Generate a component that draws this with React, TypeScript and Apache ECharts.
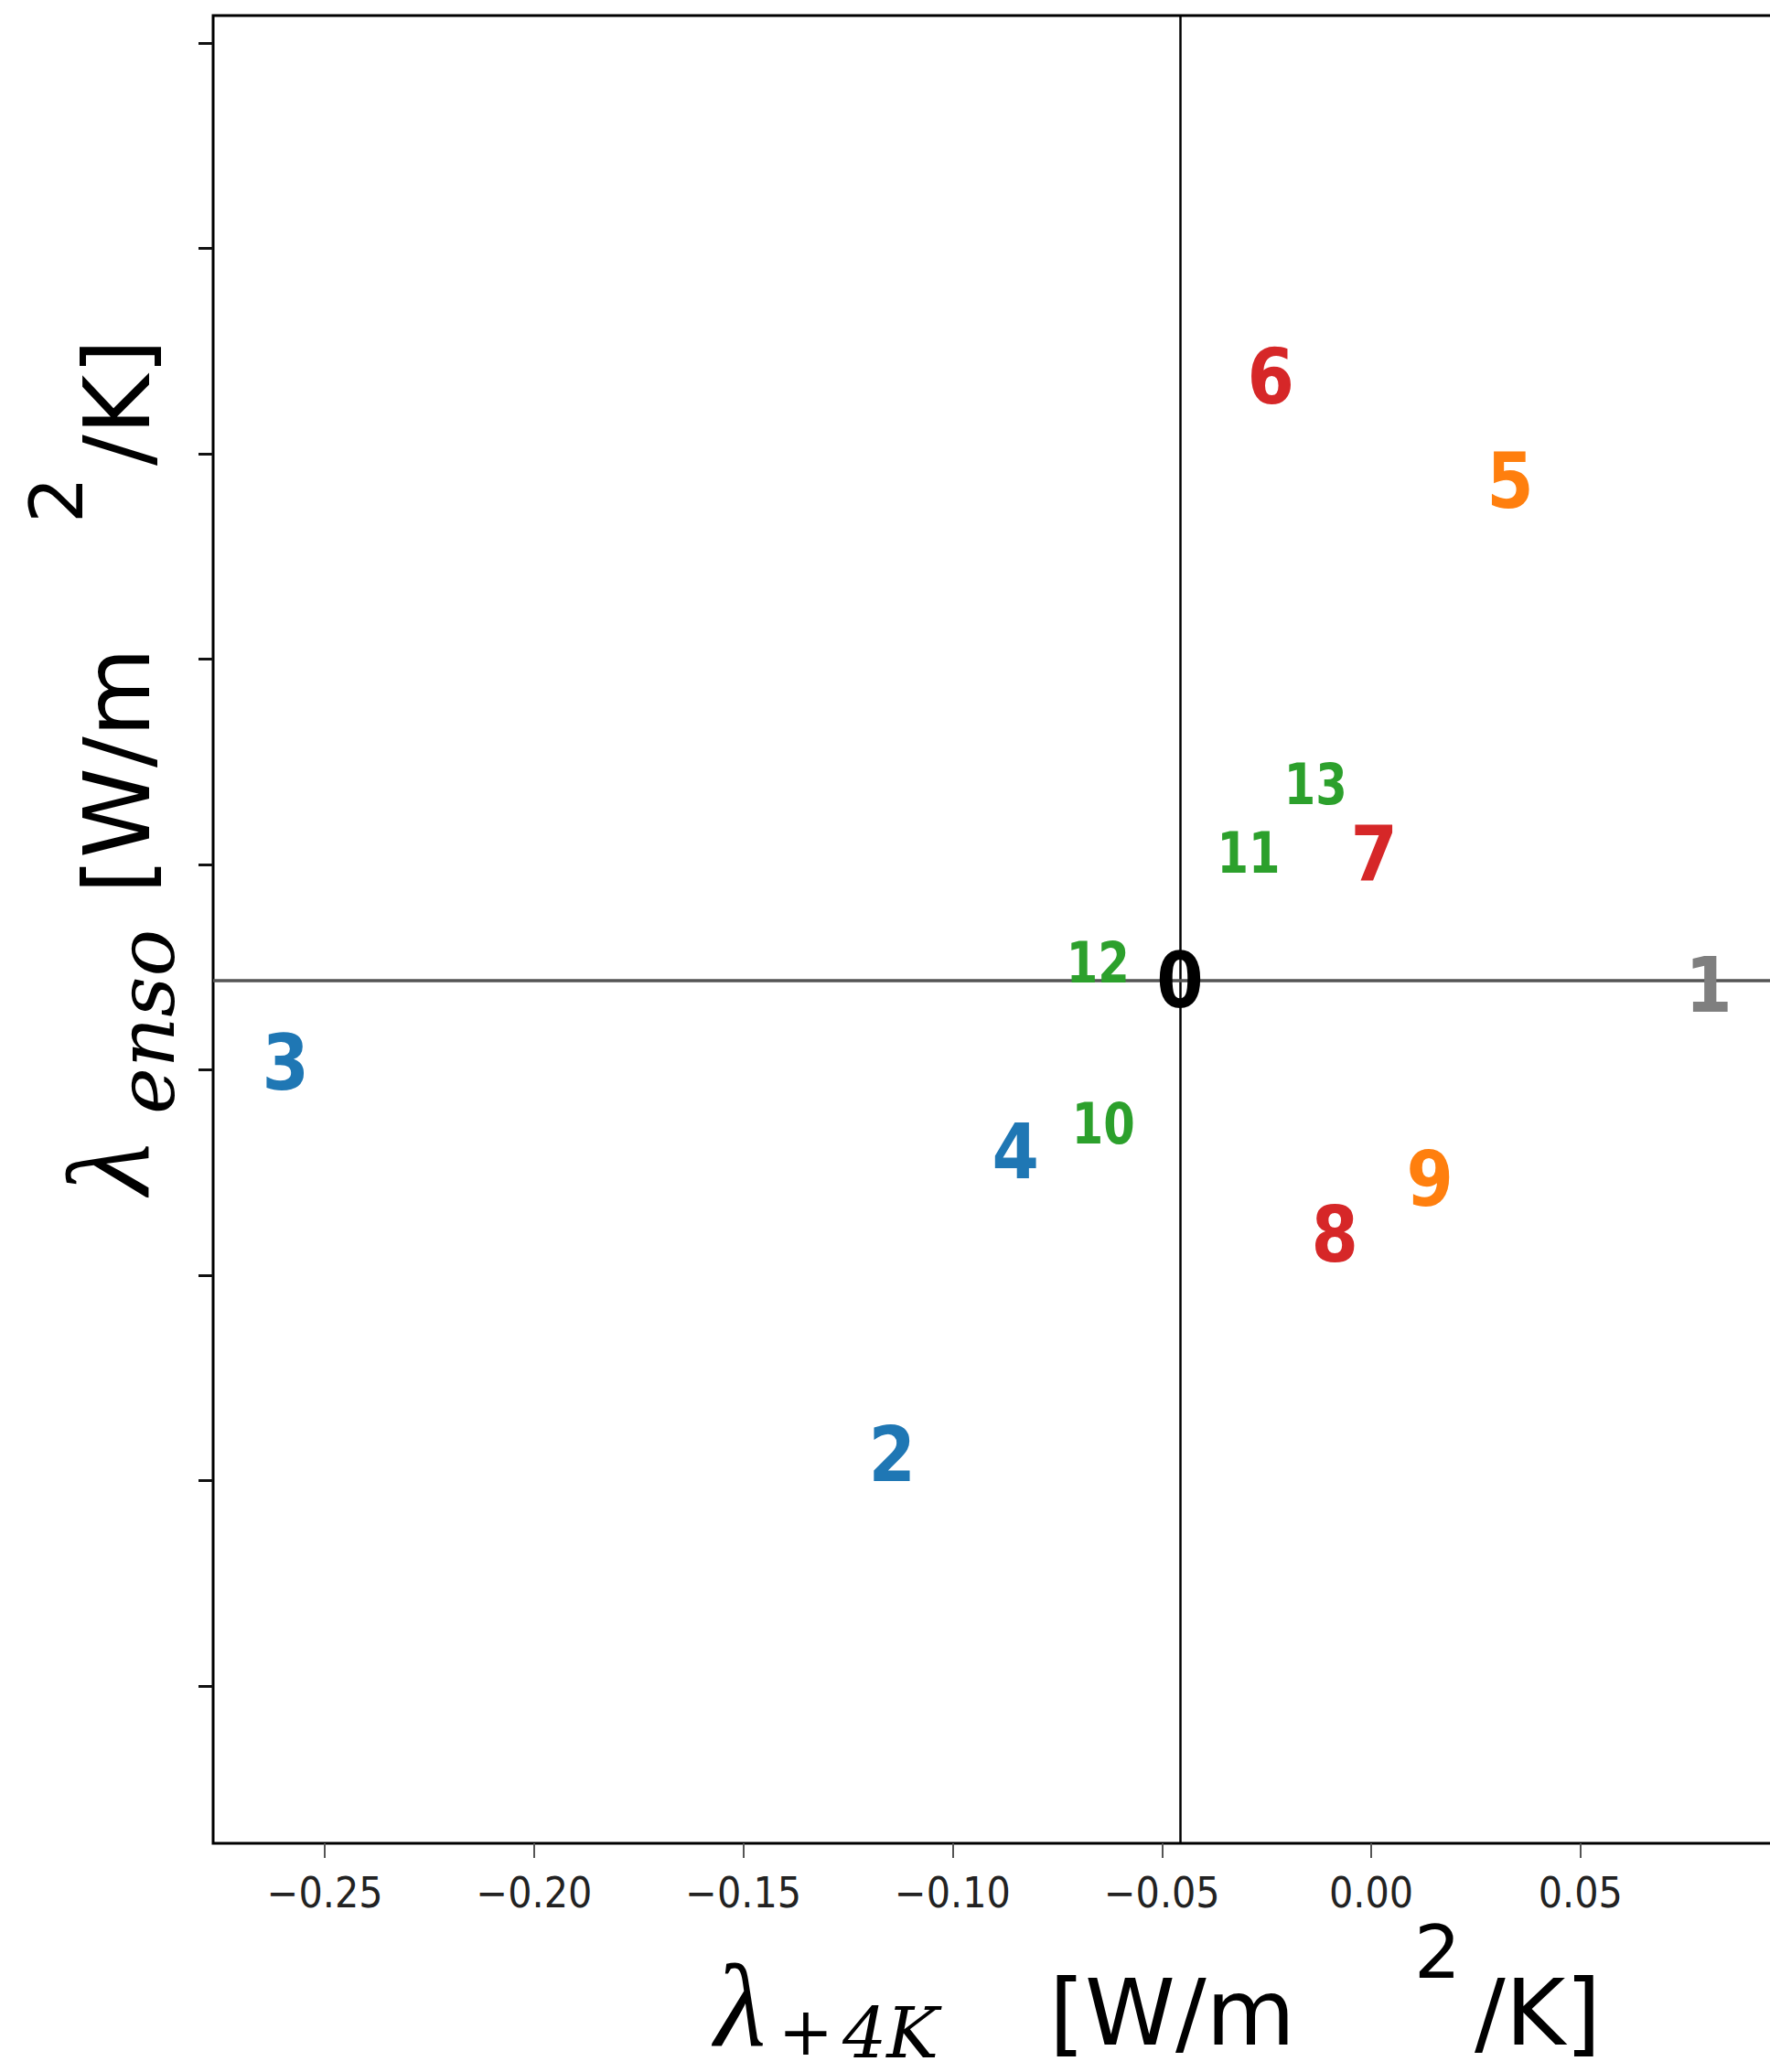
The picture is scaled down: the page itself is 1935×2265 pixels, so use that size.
import React, { useEffect, useRef } from "react";
import * as echarts from "echarts";

// ---- data ----
const pointLabels = ["0", "1", "2", "3", "4", "5", "6", "7", "8", "9", "10", "11", "12", "13"];
const lambda4K = [-0.0457, 0.0806, -0.1145, -0.2594, -0.085, 0.0332, -0.024, 0.0007, -0.0087, 0.014, -0.064, -0.0293, -0.0653, -0.0133];
const lambdaEnso = [-0.0566, -0.0588, -0.2873, -0.0967, -0.1399, 0.1866, 0.2374, 0.0049, -0.1804, -0.1532, -0.1261, 0.0058, -0.0477, 0.0388];
const pointGroups = ["ref", "gray", "blue", "blue", "blue", "orange", "red", "red", "red", "orange", "green", "green", "green", "green"];
const xTickValues = [-0.25, -0.2, -0.15, -0.1, -0.05, 0, 0.05];
const yTickValues = [-0.4, -0.3, -0.2, -0.1, 0, 0.1, 0.2, 0.3, 0.4];
const xRange = [-0.2767, 0.1];
const yRange = [-0.4766, 0.4134];

const groupColor: Record<string, string> = {
  ref: "#000000",
  gray: "#7f7f7f",
  blue: "#1f77b4",
  orange: "#ff7f0e",
  red: "#d62728",
  green: "#2ca02c",
};

const fmt = (v: number) => (v < 0 ? "\u2212" + Math.abs(v).toFixed(2) : v.toFixed(2));

export default function App() {
  const ref = useRef<HTMLDivElement>(null);

  useEffect(() => {
    if (!ref.current) return;
    const chart = echarts.init(ref.current, undefined, { renderer: "svg" });

    const data = lambda4K.map((x, i) => [x, lambdaEnso[i], i]);
    const sans = "'DejaVu Sans', sans-serif";
    const serif = "'DejaVu Serif', serif";
    const tSerif = "'Liberation Serif', serif";

    const option: any = {
      animation: false,
      backgroundColor: "#ffffff",
      grid: {
        left: 233,
        top: 17,
        width: 1723.6,
        height: 1998,
        outerBoundsMode: "none",
        show: true,
        borderColor: "#000",
        borderWidth: 3,
        backgroundColor: "#fff",
      },
      xAxis: {
        type: "value",
        min: xRange[0],
        max: xRange[1],
        axisLine: { show: false, onZero: false },
        splitLine: { show: false },
        axisTick: {
          show: true,
          length: 16,
          customValues: xTickValues,
          lineStyle: { color: "#555", width: 2 },
        },
        axisLabel: {
          show: true,
          customValues: xTickValues,
          margin: 31,
          fontSize: 46,
          fontFamily: "'DejaVu Sans Condensed', 'DejaVu Sans', sans-serif",
          color: "#222",
          formatter: (v: number) => fmt(v),
        },
      },
      yAxis: {
        type: "value",
        min: yRange[0],
        max: yRange[1],
        axisLine: { show: false, onZero: false },
        splitLine: { show: false },
        axisTick: {
          show: true,
          length: 16,
          customValues: yTickValues,
          lineStyle: { color: "#111", width: 3 },
        },
        axisLabel: { show: false },
      },
      graphic: [
        // x axis title
        { type: "text", x: 781, y: 2193, style: { text: "λ", font: `italic 130px ${tSerif}`, fill: "#000", align: "left", verticalAlign: "middle" } },
        { type: "text", x: 881, y: 2221, style: { text: "+", font: `72px ${serif}`, lineHeight: 50, fill: "#000", align: "center", verticalAlign: "middle" } },
        { type: "text", x: 921, y: 2222, style: { text: "4K", font: `italic 76px ${serif}`, lineHeight: 56, fill: "#000", align: "left", verticalAlign: "middle" } },
        { type: "text", x: 1147, y: 2200, style: { text: "[W/m", font: `100px ${sans}`, fill: "#000", align: "left", verticalAlign: "middle" } },
        { type: "text", x: 1546, y: 2134, style: { text: "2", font: `80px ${sans}`, fill: "#000", align: "left", verticalAlign: "middle" } },
        { type: "text", x: 1612, y: 2200, style: { text: "/K]", font: `100px ${sans}`, fill: "#000", align: "left", verticalAlign: "middle" } },
        // y axis title (rotated)
        { type: "text", x: 119, y: 1306, rotation: Math.PI / 2, style: { text: "λ", font: `italic 130px ${tSerif}`, fill: "#000", align: "left", verticalAlign: "middle" } },
        { type: "text", x: 160, y: 1218, rotation: Math.PI / 2, style: { text: "enso", font: `italic 86px ${serif}`, fill: "#000", align: "left", verticalAlign: "middle" } },
        { type: "text", x: 128, y: 977, rotation: Math.PI / 2, style: { text: "[W/m", font: `100px ${sans}`, fill: "#000", align: "left", verticalAlign: "middle" } },
        { type: "text", x: 62, y: 572, rotation: Math.PI / 2, style: { text: "2", font: `80px ${sans}`, fill: "#000", align: "left", verticalAlign: "middle" } },
        { type: "text", x: 128, y: 509, rotation: Math.PI / 2, style: { text: "/K]", font: `100px ${sans}`, fill: "#000", align: "left", verticalAlign: "middle" } },
      ],
      series: [
        {
          type: "scatter",
          data: [[lambda4K[0], lambdaEnso[0]]],
          symbolSize: 0,
          z: 1,
          silent: true,
          markLine: {
            silent: true,
            precision: 6,
            symbol: ["none", "none"],
            label: { show: false },
            animation: false,
            data: [
              { xAxis: lambda4K[0], lineStyle: { color: "#000", width: 2.5, type: "solid" } },
              { yAxis: lambdaEnso[0], lineStyle: { color: "#555", width: 3.5, type: "solid" } },
            ],
          },
        },
        {
          type: "custom",
          coordinateSystem: "cartesian2d",
          z: 5,
          clip: false,
          data,
          renderItem: (_params: any, api: any) => {
            const idx = api.value(2);
            const p = api.coord([api.value(0), api.value(1)]);
            const g = pointGroups[idx];
            const small = g === "green";
            return {
              type: "text",
              x: p[0],
              y: p[1],
              scaleX: small ? 0.8 : 0.88,
              style: {
                text: pointLabels[idx],
                fill: groupColor[g],
                font: `bold ${small ? 62 : 84}px ${sans}`,
                align: "center",
                verticalAlign: "middle",
              },
            };
          },
        },
      ],
    };

    chart.setOption(option);
    return () => chart.dispose();
  }, []);

  return (
    <div style={{ position: "absolute", left: 0, top: 0, width: 1935, height: 2265, overflow: "hidden", background: "#fff" }}>
      <div ref={ref} style={{ width: 1960, height: 2265 }} />
    </div>
  );
}
